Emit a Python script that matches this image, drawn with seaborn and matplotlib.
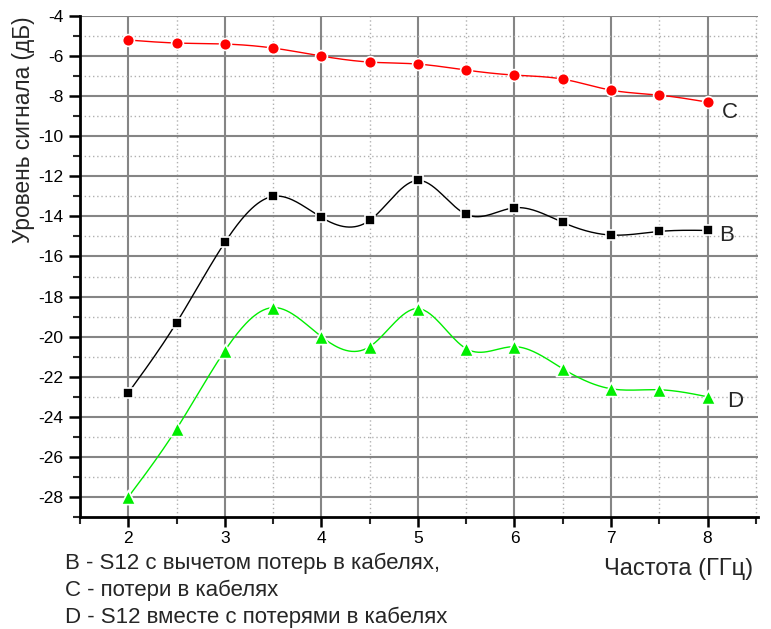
import numpy as np
import pandas as pd
import matplotlib
matplotlib.use("Agg")
import matplotlib.pyplot as plt
import seaborn as sns
from matplotlib.ticker import MultipleLocator

freq = [2, 2.5, 3, 3.5, 4, 4.5, 5, 5.5, 6, 6.5, 7, 7.5, 8]
series_B = [-22.8, -19.3, -15.3, -13.0, -14.05, -14.2, -12.2, -13.9, -13.57, -14.3, -14.93, -14.75, -14.7]
series_C = [-5.2, -5.35, -5.4, -5.6, -6.0, -6.3, -6.4, -6.7, -6.95, -7.15, -7.7, -7.95, -8.3]
series_D = [-28.0, -24.6, -20.7, -18.55, -20.0, -20.5, -18.6, -20.6, -20.5, -21.6, -22.6, -22.65, -23.0]
end_labels = ["B", "C", "D"]
notes = ["B - S12 с вычетом потерь в кабелях,",
         "C - потери в кабелях",
         "D - S12 вместе с потерями в кабелях"]
xlabel = "Частота (ГГц)"
ylabel = "Уровень сигнала (дБ)"


def natural_spline(x, y, n=400):
    x = np.asarray(x, float); y = np.asarray(y, float)
    k = len(x); h = np.diff(x)
    A = np.zeros((k, k)); r = np.zeros(k)
    A[0, 0] = A[-1, -1] = 1
    for i in range(1, k - 1):
        A[i, i - 1] = h[i - 1]; A[i, i] = 2 * (h[i - 1] + h[i]); A[i, i + 1] = h[i]
        r[i] = 6 * ((y[i + 1] - y[i]) / h[i] - (y[i] - y[i - 1]) / h[i - 1])
    M = np.linalg.solve(A, r)
    xs = np.linspace(x[0], x[-1], n)
    idx = np.clip(np.searchsorted(x, xs) - 1, 0, k - 2)
    x0, x1 = x[idx], x[idx + 1]; hh = x1 - x0
    t0 = x1 - xs; t1 = xs - x0
    ys = (M[idx] * t0**3 + M[idx + 1] * t1**3) / (6 * hh) + \
         (y[idx] / hh - M[idx] * hh / 6) * t0 + (y[idx + 1] / hh - M[idx + 1] * hh / 6) * t1
    return xs, ys


sns.set_style("white")
plt.rcParams['font.family'] = ['Liberation Sans', 'DejaVu Sans']
plt.rcParams['axes.unicode_minus'] = False

fig = plt.figure(figsize=(7.71, 6.29), dpi=100)
ax = fig.add_axes([0.1038, 0.178, 0.879, 0.7966])

styles = {
    "B": dict(color="black", marker="s", s=62),
    "C": dict(color="#ff0000", marker="o", s=72),
    "D": dict(color="#00ee00", marker="^", s=105),
}
data = {"B": series_B, "C": series_C, "D": series_D}

for name in end_labels:
    xs, ys = natural_spline(freq, data[name])
    sns.lineplot(x=xs, y=ys, ax=ax, color=styles[name]["color"], lw=1.0, zorder=3)
    df = pd.DataFrame({"x": freq, "y": data[name]})
    sns.scatterplot(data=df, x="x", y="y", ax=ax, color=styles[name]["color"],
                    marker=styles[name]["marker"], s=styles[name]["s"],
                    edgecolor="white", linewidth=1.2, zorder=4)

ax.set_xlim(1.5, 8.52)
ax.set_ylim(-29, -4)
ax.xaxis.set_major_locator(MultipleLocator(1))
ax.xaxis.set_minor_locator(MultipleLocator(0.5))
ax.yaxis.set_major_locator(MultipleLocator(2))
ax.yaxis.set_minor_locator(MultipleLocator(1))
ax.set_xticks(range(2, 9))
ax.set_xticklabels([str(v) for v in range(2, 9)])

ax.grid(True, which="major", color="#858585", lw=1.5, ls="-", zorder=0)
ax.grid(True, which="minor", color="#b0b0b0", lw=1.0, ls=(0, (1, 2)), zorder=0)
ax.set_axisbelow(True)

for sp in ["top", "right"]:
    ax.spines[sp].set_visible(False)
for sp in ["left", "bottom"]:
    ax.spines[sp].set_color("black")
    ax.spines[sp].set_linewidth(2)

ax.tick_params(axis="both", which="major", direction="out", length=8, width=1.8,
               labelsize=12.5, colors="black", left=True, bottom=True, pad=4)
ax.tick_params(axis="x", which="major", length=7, pad=3)
ax.tick_params(axis="both", which="minor", direction="out", length=5, width=1.5,
               left=True, bottom=True)
ax.set_xlabel(""); ax.set_ylabel("")

label_pos = {"B": (8.125, -14.95), "C": (8.145, -8.8), "D": (8.2, -23.25)}
for name in end_labels:
    ax.text(*label_pos[name], name, fontsize=16, va="center", ha="left", zorder=5)

fig.text(24 / 771, 1 - 130 / 629, ylabel, rotation=90, fontsize=16.3, ha="center", va="center")
fig.text(753 / 771, 1 - 575 / 629, xlabel, fontsize=17, ha="right", va="baseline")
for t, yy in zip(notes, [569, 596, 623]):
    fig.text(65 / 771, 1 - yy / 629, t, fontsize=16, ha="left", va="baseline")

fig.savefig("out.png", dpi=100)
